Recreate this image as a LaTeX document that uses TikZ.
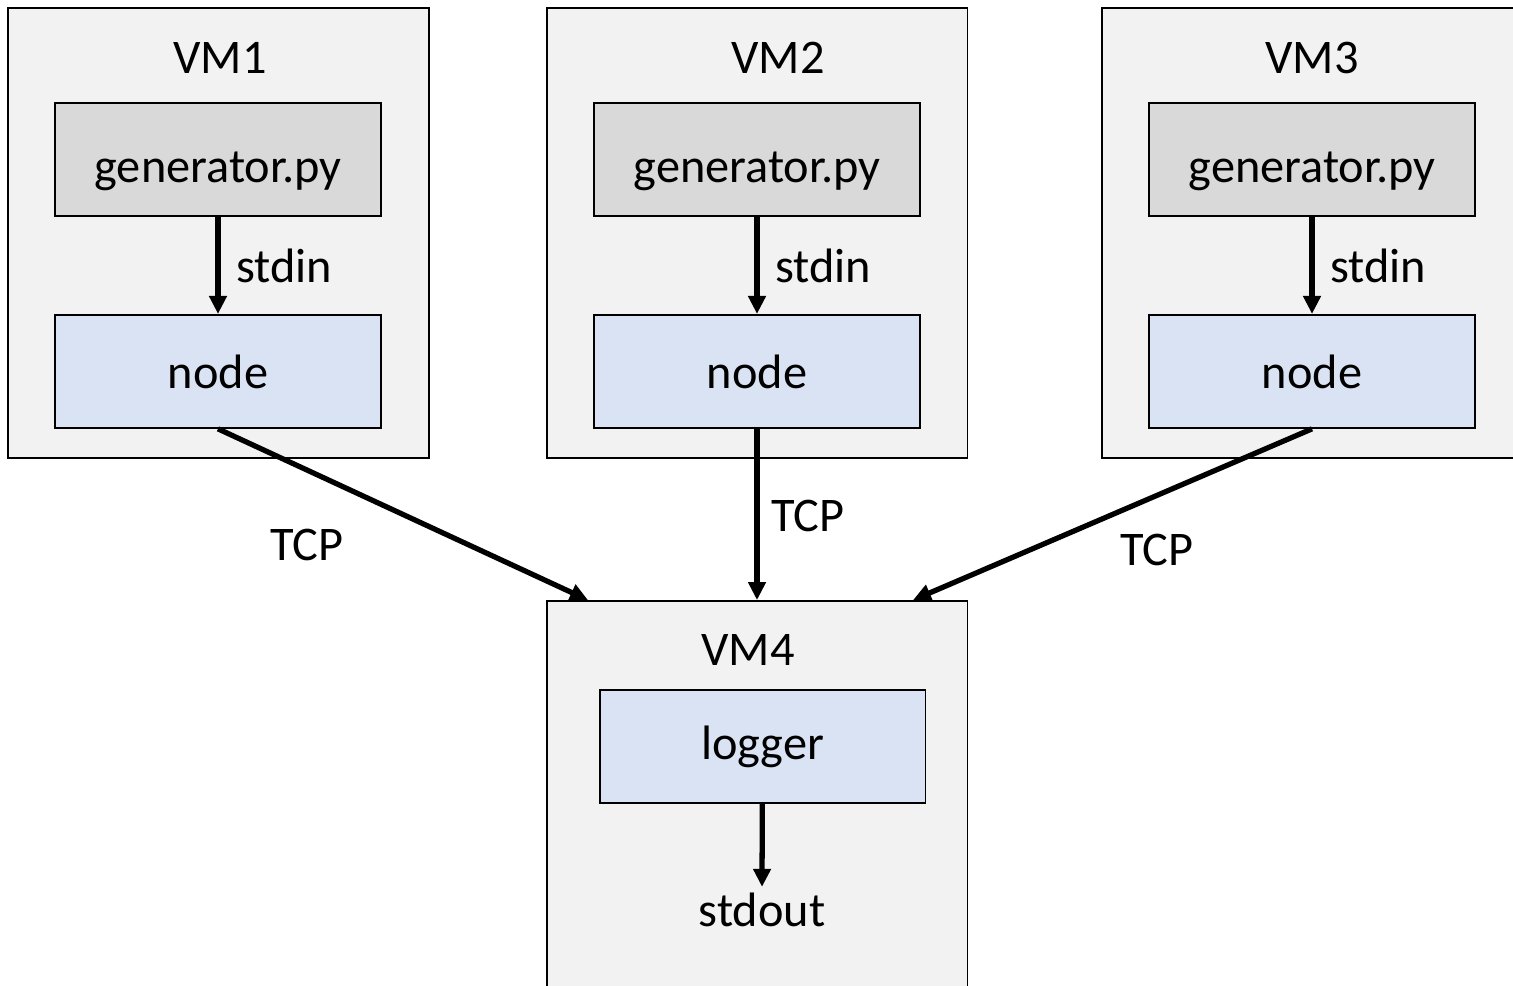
\documentclass[tikz,border=0pt]{standalone}
\usepackage{fontspec}
\setmainfont{Carlito}
\usetikzlibrary{positioning,arrows}
\usetikzlibrary{arrows.meta}
\usepackage{xcolor}
\definecolor{vmgray}{HTML}{F2F2F2}
\definecolor{gengray}{HTML}{D9D9D9}
\definecolor{procblue}{HTML}{DAE3F3}

\begin{document}
\begin{tikzpicture}[x=0.02cm, y=-0.02cm]
  \tikzstyle{every node}=[align=center, font=\fontsize{27.5}{33}\selectfont]
  \tikzstyle{vm}=[draw, rectangle, fill=vmgray, line width=1.1pt, minimum width=8.42cm, minimum height=9cm, inner sep=0pt]
  \tikzstyle{gen}=[draw, rectangle, fill=gengray, line width=1.1pt, minimum width=6.52cm, minimum height=2.26cm, text height=25.8pt, text depth=0pt]
  \tikzstyle{proc}=[draw, rectangle, fill=procblue, line width=1.1pt, minimum width=6.52cm, minimum height=2.26cm]
  \tikzstyle{flow}=[-{Triangle[length=0.36cm, width=0.34cm]}, line width=3pt]
  \useasboundingbox (0,0) rectangle (1513,986);
  \clip (0,0) rectangle (1513,986);
  % \draw [step=1.0,blue, very thick] (0,0) grid (1513,986);
  \node [vm] (vm1) at (218.5,233) {};
  \node [vm] (vm2) at (757,233) {};
  \node [vm, minimum width=10cm] (vm3) at (1352,233) {};
  \node [vm, minimum height=7.98cm] (vm4) at (757,800.5) {};

  \node [] (t1) at (220,58) {VM1};
  \node [] (t2) at (778,58) {VM2};
  \node [] (t3) at (1312,58) {VM3};
  \node [] (t4) at (748,650) {VM4};

  \node [gen] (g1) at (218,159.5) {generator.py};
  \node [gen] (g2) at (757,159.5) {generator.py};
  \node [gen] (g3) at (1312,159.5) {generator.py};
  \node [proc, below = 1.94cm of g1] (n1) {node};
  \node [proc, below = 1.94cm of g2] (n2) {node};
  \node [proc, below = 1.94cm of g3] (n3) {node};
  \node [proc] (lg) at (762.5,746.5) {logger};
  \node [] (out) at (762,910) {stdout};

  \draw [flow] (g1) -- node [right=0.2cm] {stdin} (n1);
  \draw [flow] (g2) -- node [right=0.2cm] {stdin} (n2);
  \draw [flow] (g3) -- node [right=0.2cm] {stdin} (n3);
  \draw [flow] (n1.south) -- (vm4.north -| 588,0);
  \draw [flow] (n2.south) -- (vm4.north);
  \draw [flow] (n3.south) -- (vm4.north -| 913,0);
  \draw [flow] (lg) -- (out.north);

  \node [] (tcp1) at (307,545) {TCP};
  \node [] (tcp2) at (808,516) {TCP};
  \node [] (tcp3) at (1157,550) {TCP};
\end{tikzpicture}
\end{document}
